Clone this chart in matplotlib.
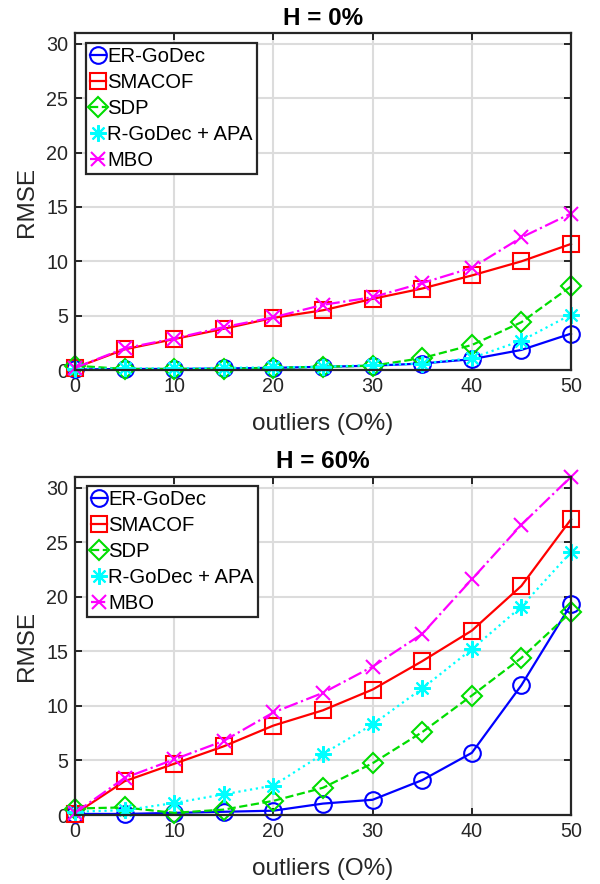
import numpy as np
import matplotlib.pyplot as plt

outliers = [0, 5, 10, 15, 20, 25, 30, 35, 40, 45, 50]

# H = 0%
er_godec_h0 = [0.05, 0.1, 0.1, 0.15, 0.2, 0.3, 0.4, 0.6, 1.0, 1.85, 3.35]
smacof_h0 = [0.2, 1.9, 2.85, 3.8, 4.8, 5.5, 6.55, 7.5, 8.7, 10.0, 11.6]
sdp_h0 = [0.4, 0.1, 0.1, 0.1, 0.2, 0.3, 0.4, 1.1, 2.3, 4.4, 7.7]
rgodec_apa_h0 = [0.1, 0.15, 0.15, 0.2, 0.25, 0.3, 0.45, 0.6, 1.1, 2.7, 5.1]
mbo_h0 = [0.2, 2.0, 2.9, 3.95, 4.85, 6.0, 6.7, 8.0, 9.4, 12.2, 14.4]

# H = 60%
er_godec_h60 = [0.1, 0.1, 0.2, 0.3, 0.4, 1.05, 1.4, 3.2, 5.7, 11.9, 19.3]
smacof_h60 = [0.1, 3.1, 4.7, 6.3, 8.2, 9.6, 11.5, 14.1, 16.9, 21.0, 27.1]
sdp_h60 = [0.6, 0.7, 0.2, 0.5, 1.3, 2.5, 4.75, 7.6, 10.95, 14.4, 18.6]
rgodec_apa_h60 = [0.3, 0.45, 1.1, 1.9, 2.7, 5.6, 8.3, 11.6, 15.2, 19.1, 24.1]
mbo_h60 = [0.2, 3.4, 5.1, 6.8, 9.4, 11.2, 13.6, 16.6, 21.6, 26.6, 31.0]

labels = ['ER-GoDec', 'SMACOF', 'SDP', 'R-GoDec + APA', 'MBO']
colors = ['#0000ff', '#ff0000', '#00dd00', '#00ffff', '#ff00ff']
markers = ['o', 's', 'D', (8, 2, 0), 'x']
styles = ['-', '-', '--', ':', '-.']
sizes = [12, 11, 10, 12, 10]

plt.rcParams['font.family'] = ['Liberation Sans', 'DejaVu Sans']
dark = '#262626'


def draw_panel(ax, series, title, legend_anchor):
    for y, lab, c, m, ls, ms in zip(series, labels, colors, markers, styles, sizes):
        ax.plot(outliers, y, color=c, linestyle=ls, linewidth=1.6, marker=m,
                markersize=ms, markerfacecolor='none', markeredgecolor=c,
                markeredgewidth=1.5, label=lab, clip_on=False)
    ax.set_xlim(0, 50)
    ax.set_ylim(0, 31)
    ax.set_xticks(range(0, 51, 10))
    ax.set_yticks(range(0, 31, 5))
    ax.grid(True, color='#dcdcdc', linewidth=1.5)
    ax.set_axisbelow(True)
    ax.tick_params(direction='in', length=5, width=1.4, top=True, right=True,
                   labelsize=14.2, colors=dark, pad=5)
    for sp in ax.spines.values():
        sp.set_linewidth(1.6)
        sp.set_color(dark)
    ax.set_title(title, fontsize=17.5, fontweight='bold', color='black', pad=6)
    ax.set_xlabel('outliers (O%)', fontsize=17.5, color=dark, labelpad=12)
    ax.set_ylabel('RMSE', fontsize=17.5, color=dark, labelpad=6)
    leg = ax.legend(loc='upper left', bbox_to_anchor=legend_anchor, borderaxespad=0,
                    fontsize=14.6, handlelength=0.8, handletextpad=0.05,
                    labelspacing=0.34, borderpad=0.2, fancybox=False,
                    framealpha=1, edgecolor=dark)
    leg.get_frame().set_linewidth(1.6)
    for t in leg.get_texts():
        t.set_color('black')


fig = plt.figure(figsize=(6, 8.84), dpi=100)
ax1 = fig.add_axes([0.125, 0.5814, 0.8267, 0.3812])
ax2 = fig.add_axes([0.125, 0.078, 0.8267, 0.3827])

draw_panel(ax1, [er_godec_h0, smacof_h0, sdp_h0, rgodec_apa_h0, mbo_h0],
           'H = 0%', (0.022, 0.970))
draw_panel(ax2, [er_godec_h60, smacof_h60, sdp_h60, rgodec_apa_h60, mbo_h60],
           'H = 60%', (0.024, 0.972))

fig.savefig('out.png', dpi=100)
